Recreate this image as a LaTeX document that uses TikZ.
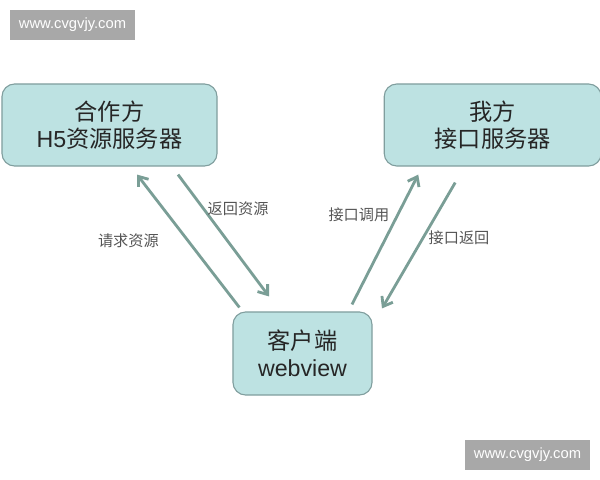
\documentclass[tikz,border=0pt]{standalone}
\usepackage{fontspec}
\setmainfont{Liberation Sans}
\newfontfamily\cjk{Noto Sans CJK SC}
\usetikzlibrary{arrows.meta,positioning,calc}
\definecolor{boxfill}{RGB}{189,226,226}
\definecolor{boxline}{RGB}{128,158,158}
\definecolor{arrowcol}{RGB}{122,158,150}
\definecolor{markgray}{RGB}{168,168,168}
\definecolor{labelgray}{RGB}{85,85,85}

\begin{document}
\begin{tikzpicture}[
    x=0.025cm, y=-0.025cm,
    every node/.style={font=\cjk},
    server/.style={rectangle, draw=boxline, line width=0.8pt, rounded corners=9pt, fill=boxfill, align=center, inner sep=0pt, text=black!85, font=\cjk\fontsize{16.5}{19.5}\selectfont},
    arr/.style={-{Straight Barb[length=6pt, width=9pt]}, line width=2pt, draw=arrowcol},
    tag/.style={font=\cjk\fontsize{10.8}{12}\selectfont, text=labelgray, inner sep=0pt},
    watermark/.style={rectangle, fill=markgray, text=white, minimum width=3.125cm, minimum height=0.75cm, font=\rmfamily\fontsize{10.5}{12}\selectfont},
]
    \useasboundingbox (0,0) rectangle (600,480);

    \node[watermark] (mark1) at (72.5,25) {www.cvgvjy.com};
    \node[watermark] (mark2) at (527.5,455) {www.cvgvjy.com};

    \node[server, minimum width=5.375cm, minimum height=2.05cm] (partner) at (109.5,125) {合作方\\{\rmfamily H5}资源服务器};
    \node[server, minimum width=5.425cm, minimum height=2.05cm, right=4.15cm of partner] (ours) {我方\\接口服务器};
    \node[server, minimum width=3.475cm, minimum height=2.075cm] (client) at (302.5,353.5) {客户端\\{\rmfamily webview}};

    % partner <-> client
    \draw[arr] ($(client.north west)+(7,-4)$) -- node[tag, pos=0.5, left=0.7cm] {请求资源} ($(partner.south)+(27.5,8)$);
    \draw[arr] ($(partner.south)+(68.5,8)$) -- node[tag, pos=0.28, anchor=west, xshift=2pt] {返回资源} ($(client.north)+(-33.5,-15)$);
    % client <-> ours
    \draw[arr] ($(client.north)+(49.5,-7)$) -- node[tag, pos=0.69, anchor=east, xshift=-5pt] {接口调用} ($(ours.south)+(-74.5,8)$);
    \draw[arr] ($(ours.south)+(-37.5,16)$) -- node[tag, pos=0.44, anchor=west, xshift=3pt] {接口返回} ($(client.north)+(79.5,-3)$);
\end{tikzpicture}
\end{document}
